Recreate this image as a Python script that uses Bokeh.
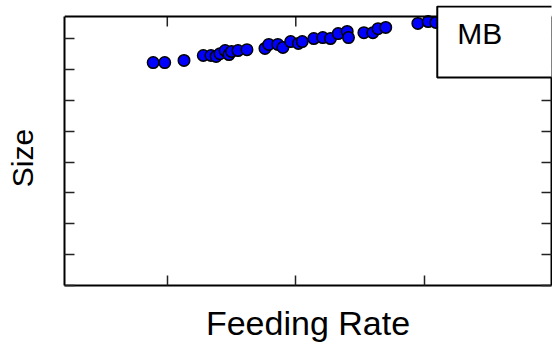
from bokeh.plotting import figure
from bokeh.models import LinearAxis, FixedTicker, Range1d, Label, Span
from bokeh.embed import file_html
from bokeh.resources import INLINE

feeding_rate = [0.89, 0.98, 1.13, 1.28, 1.34, 1.38, 1.41, 1.45, 1.48, 1.50, 1.55, 1.62,
                1.76, 1.79, 1.86, 1.90, 1.96, 2.02, 2.05, 2.14, 2.21, 2.27, 2.33, 2.40,
                2.41, 2.53, 2.60, 2.64, 2.70, 2.95, 3.03, 3.09]
size = [7.22, 7.22, 7.29, 7.45, 7.45, 7.42, 7.51, 7.61, 7.48, 7.58, 7.61, 7.64,
        7.68, 7.81, 7.81, 7.71, 7.90, 7.84, 7.90, 8.00, 8.03, 8.00, 8.16, 8.23,
        8.03, 8.19, 8.19, 8.32, 8.36, 8.49, 8.55, 8.52]
x_ticks = [1, 2, 3]
y_ticks = [0, 1, 2, 3, 4, 5, 6, 7, 8]
x_lim = (0.2, 3.99)
y_lim = (0, 8.71)
legend_text = "MB"

FONT = "Liberation Sans"
NB = "\u00a0"

# frame extends a little above the axes box so the legend box can overhang it
p = figure(width=552, height=351, output_backend="svg", toolbar_location=None,
           x_range=Range1d(*x_lim), y_range=Range1d(0, 9.07),
           min_border_left=64, min_border_right=1, min_border_top=5, min_border_bottom=66,
           x_axis_label="Feeding Rate", y_axis_label="Size" + NB * 3)
p.grid.visible = False
p.outline_line_color = None
p.background_fill_color = "white"
p.border_fill_color = "white"

p.add_layout(LinearAxis(), "right")

for ax in p.axis:
    ax.axis_line_width = 2
    ax.axis_line_color = "black"
    ax.major_tick_in = 10
    ax.major_tick_out = 0
    ax.minor_tick_in = 0
    ax.minor_tick_out = 0
    ax.major_tick_line_width = 1.5
    ax.major_tick_line_color = "#222222"
    ax.major_label_text_font_size = "0px"
    ax.major_label_standoff = 0
    ax.axis_label_text_font = FONT
    ax.axis_label_text_font_style = "normal"
    ax.axis_label_text_color = "black"

for ax in p.xaxis:
    ax.ticker = FixedTicker(ticks=x_ticks)
for ax in p.yaxis:
    ax.ticker = FixedTicker(ticks=y_ticks)
    ax.bounds = y_lim

bottom = p.below[0]
bottom.axis_label_text_font_size = "34px"
bottom.axis_label_standoff = 18
left = p.left[0]
left.axis_label_text_font_size = "30px"
left.axis_label_standoff = 26

# top edge of the axes box and its inward ticks
p.add_layout(Span(location=y_lim[1], dimension="width", line_color="black", line_width=2))
tick_len = 10 / 30.875
p.segment(x0=x_ticks, y0=[y_lim[1]] * len(x_ticks), x1=x_ticks,
          y1=[y_lim[1] - tick_len] * len(x_ticks), line_color="#222222", line_width=1.5)

p.scatter(feeding_rate, size, size=11.5, fill_color="#0000ff", line_color="black", line_width=1.5)

lbl = Label(x=3.101, y=9.04, text=legend_text, text_font=FONT, text_font_size="30px",
            text_color="black", text_align="left", text_baseline="top",
            border_line_color="black", border_line_width=2,
            background_fill_color="white", padding=(20, 80, 11, 27))
p.add_layout(lbl)

open("out.html", "w").write(file_html(p, INLINE))
